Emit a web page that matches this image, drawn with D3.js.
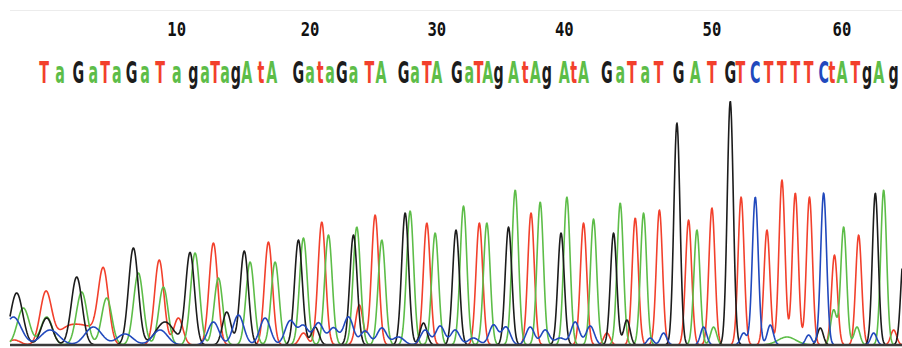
<!DOCTYPE html>
<html>
<head>
<meta charset="utf-8">
<script src="https://cdn.jsdelivr.net/npm/d3@7"></script>
<style>
  html, body { margin: 0; padding: 0; background: #fff; }
  svg { display: block; }
  .call { font-family: "DejaVu Sans", sans-serif; font-weight: bold; font-size: 31px; }
  .pos { font-family: "DejaVu Sans Mono", monospace; font-weight: bold; font-size: 19px; fill: #111; }
</style>
</head>
<body>
<svg id="chart" width="902" height="348"></svg>
<script>
// base calls (lowercase = low quality) and their scan positions
const bases = "TaGaTaGaTagaTagAtAGataGaTAGaTAGaTAgAtAgAtAGaTaTGATGTCTTTTCtATgAg";
const basePos = [41, 60, 82, 100, 114, 128, 146, 162, 180, 200,
  220, 234, 246, 258, 271, 284, 301, 314, 346, 360,
  372, 384, 398, 412, 431, 445, 472, 486, 500, 512,
  536, 551, 562, 573, 586, 604, 618, 630, 644, 665,
  676, 688, 716, 732, 746, 762, 778, 802, 822, 842,
  864, 876, 894, 910, 926, 942, 958, 976, 986, 998,
  1014, 1028, 1042, 1060];
const tickBases = [10, 20, 30, 40, 50, 60];

// trace peaks per channel: [scan, intensity, optional width factor]
const peaksA = [[16, 296], [44, 224], [86, 424], [116, 376], [154, 576], [184, 464],
  [222, 736], [250, 536], [288, 664], [318, 664], [352, 856], [382, 880],
  [416, 944], [446, 840], [480, 1072], [510, 896], [544, 1112], [572, 976],
  [606, 1240], [636, 1144], [668, 1184], [700, 1008], [732, 1136], [760, 1056],
  [824, 920], [844, 144], [932, 64, 3], [988, 280], [1000, 944], [1016, 144], [1048, 1240]];
const peaksC = [[4, 224, 1.3], [48, 120, 1.6], [100, 144, 1.6], [138, 88, 1.6], [180, 120, 1.6],
  [244, 184, 1.3], [274, 240, 1.3], [306, 216, 1.3], [336, 192, 1.3], [352, 152, 1.3], [370, 176, 1.3],
  [388, 136, 1.3], [406, 224, 1.3], [426, 112, 1.3], [446, 136, 1.3], [466, 64, 1.6], [498, 120, 1.3],
  [516, 152, 1.3], [534, 120, 1.3], [556, 56, 1.6], [580, 160, 1.3], [595, 144, 1.3], [624, 144, 1.3],
  [642, 120, 1.3], [660, 56, 1.6], [678, 184, 1.3], [696, 152, 1.3], [768, 56], [784, 96], [832, 144],
  [880, 96], [894, 1184], [912, 160], [958, 80], [976, 1216], [1036, 96]];
const peaksG = [[8, 416], [44, 216], [80, 544], [148, 776], [186, 184, 2], [216, 736],
  [260, 264], [281, 752], [346, 840], [366, 144], [412, 880], [474, 1056],
  [496, 176], [535, 920], [598, 944], [661, 896], [724, 896], [740, 200],
  [800, 1776], [864, 1952], [972, 136], [1038, 1216], [1072, 720]];
const peaksT = [[5, 40], [43, 416], [70, 136, 2], [94, 120, 2], [112, 576], [179, 680],
  [202, 216], [244, 816], [310, 824], [352, 96], [374, 984], [419, 320],
  [438, 1040], [500, 976], [563, 976], [625, 1056], [688, 976], [716, 96],
  [750, 1016], [779, 1080], [814, 1000], [842, 1096], [877, 1184], [908, 920],
  [926, 1320], [942, 1216], [959, 1184], [989, 720], [1018, 880], [1060, 120]];

const colors = { A: "#5dbd48", C: "#2149bd", G: "#1c1c1c", T: "#f2402c" };

const svg = d3.select("#chart");
const left = 10, right = 902, baseY = 345;

const x = d3.scaleLinear().domain([0, 1070]).range([left, right]);
const y = d3.scaleLinear().domain([0, 2000]).range([baseY, 95]);

// peaks are broad early in the run and sharpen further along
const sigmaAt = s => 3.4 + 4.0 * Math.exp(-s / 300);

function trace(peaks) {
  const pts = [];
  for (let px = left; px <= right; px += 0.5) {
    const s = x.invert(px);
    let v = 0;
    peaks.forEach(p => {
      const sg = sigmaAt(p[0]) * (p[2] || 1);
      const d = s - p[0];
      if (Math.abs(d) < sg * 5) v += p[1] * Math.exp(-d * d / (2 * sg * sg));
    });
    pts.push([s, v]);
  }
  return pts;
}

// top separator
svg.append("line")
  .attr("x1", left).attr("x2", right)
  .attr("y1", 10.5).attr("y2", 10.5)
  .attr("stroke", "#ececec").attr("stroke-width", 1);

const line = d3.line()
  .x(d => x(d[0]))
  .y(d => y(d[1]));

const channels = [["T", peaksT], ["A", peaksA], ["G", peaksG], ["C", peaksC]];

svg.append("g")
  .attr("fill", "none")
  .attr("stroke-width", 1.6)
  .attr("stroke-linejoin", "round")
  .selectAll("path")
  .data(channels)
  .join("path")
  .attr("stroke", d => colors[d[0]])
  .attr("d", d => line(trace(d[1])));

// baseline
svg.append("line")
  .attr("x1", left).attr("x2", right)
  .attr("y1", baseY).attr("y2", baseY)
  .attr("stroke", "#3a3a3a").attr("stroke-width", 2.5);

// base calls
svg.append("g")
  .selectAll("text")
  .data(bases.split(""))
  .join("text")
  .attr("class", "call")
  .attr("text-anchor", "middle")
  .attr("transform", (d, i) => `translate(${x(basePos[i])},83) scale(0.46,1)`)
  .attr("fill", d => colors[d.toUpperCase()])
  .text(d => d);

// position numbers
svg.append("g")
  .selectAll("text")
  .data(tickBases)
  .join("text")
  .attr("class", "pos")
  .attr("text-anchor", "middle")
  .attr("transform", d => `translate(${x(basePos[d - 1])},36) scale(0.82,1)`)
  .text(d => d);
</script>
</body>
</html>
